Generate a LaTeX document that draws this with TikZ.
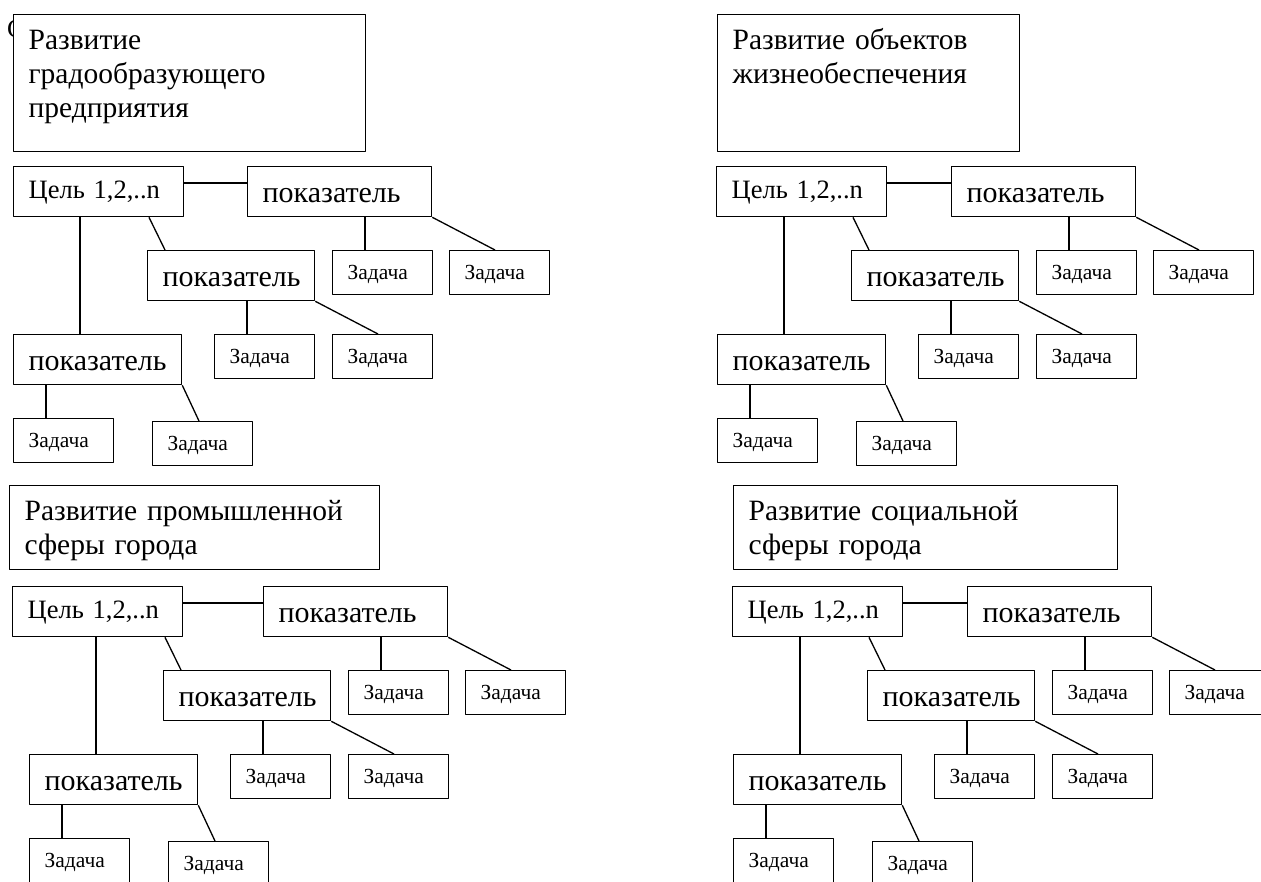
\documentclass[tikz,border=0pt]{standalone}
\usepackage{fontspec}
\setmainfont{Liberation Serif}
\tikzset{
  box/.style={draw, fill=white, line width=1.3pt, anchor=north west, inner xsep=15pt, inner ysep=0pt, align=left},
  titlebox/.style={box, font=\fontsize{29.5}{34}\selectfont, text height=35pt},
  goalbox/.style={box, text width=140pt, text height=32pt, text depth=18pt, font=\fontsize{26.5}{30}\selectfont},
  indbox/.style={box, text height=36pt, text depth=14pt, font=\fontsize{30}{32}\selectfont},
  taskbox/.style={box, text width=70pt, text height=29pt, text depth=15pt, font=\fontsize{21.5}{25}\selectfont},
  link/.style={line width=1.3pt}
}
\begin{document}
\begin{tikzpicture}[x=1pt, y=-1pt, line join=round]
\path[use as bounding box, fill=white] (0,0) rectangle (1261,881);
\clip (0,0) rectangle (1261,881);
\node[anchor=base west, inner sep=0pt, font=\fontsize{26}{30}\selectfont] (stray) at (7,37) {С};
\foreach \q/\dx/\dy/\cx/\tx/\ty/\tw/\th/\ttl in {
  a/0/0/0/13/14/352/137/{Развитие\\градообразующего\\предприятия},
  b/704/0/-1/13/14/302/137/{Развитие объектов\\жизнеобеспечения},
  c/16/420/-17/-7/65/370/84/{Развитие промышленной\\сферы города},
  d/720/420/-1/13/65/384/84/{Развитие социальной\\сферы города}}
{
\begin{scope}[shift={(\dx,\dy)}]
  \pgfmathsetmacro\tww{\tw-30}
  \pgfmathsetmacro\ttd{\th-35}
  \node[titlebox, text width=\tww pt, text depth=\ttd pt] (title\q) at (\tx,\ty) {\ttl};
  \node[goalbox] (goal\q) at (13+\cx,166) {Цель 1,2,..n};
  \node[indbox, text width=154pt] (ind\q1) at (247,166) {показатель};
  \node[indbox, text width=137pt] (ind\q2) at (147,250) {показатель};
  \node[indbox, text width=138pt] (ind\q3) at (13,334) {показатель};
  \node[taskbox] (task\q11) at (332,250) {Задача};
  \node[taskbox] (task\q12) at (449,250) {Задача};
  \node[taskbox] (task\q21) at (214,334) {Задача};
  \node[taskbox] (task\q22) at (332,334) {Задача};
  \node[taskbox] (task\q31) at (13,418) {Задача};
  \node[taskbox] (task\q32) at (152,421) {Задача};
  % goal to indicators
  \draw[link] ([yshift=-17pt]goal\q.north east) -- ([yshift=-17pt]ind\q1.north west);
  \coordinate (gv\q) at ([xshift=67pt]ind\q3.north west);
  \draw[link] (gv\q) -- (gv\q |- goal\q.south);
  \coordinate (gd\q) at ([xshift=2pt]ind\q2.north west);
  \draw[link] (gd\q |- goal\q.south) -- ([xshift=18pt]ind\q2.north west);
  % indicators to tasks
  \foreach \i/\j in {1/11, 2/21, 3/31}{
    \coordinate (tv\q\j) at ([xshift=33pt]task\q\j.north west);
    \draw[link] (tv\q\j) -- (tv\q\j |- ind\q\i.south);
  }
  \draw[link] (ind\q1.south east) -- ([xshift=46pt]task\q12.north west);
  \draw[link] (ind\q2.south east) -- ([xshift=46pt]task\q22.north west);
  \draw[link] (ind\q3.south east) -- ([xshift=47pt]task\q32.north west);
\end{scope}
}
\end{tikzpicture}
\end{document}
